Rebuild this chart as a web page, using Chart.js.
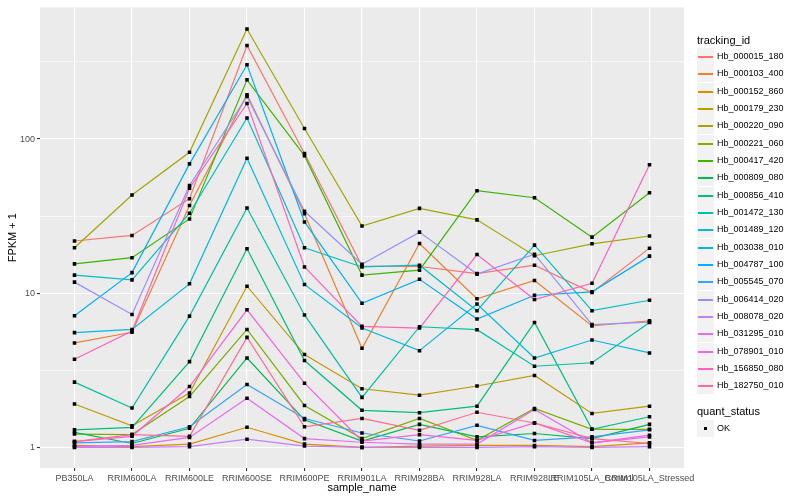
<!DOCTYPE html>
<html>
<head>
<meta charset="utf-8">
<script src="https://cdn.jsdelivr.net/npm/chart.js@4.4.0/dist/chart.umd.min.js"></script>
<style>
  body { margin: 0; background: #fff; font-family: "Liberation Sans", Arial, sans-serif; }
  #wrap { position: relative; width: 800px; height: 500px; }
  #c { position: absolute; left: 0; top: 0; }
  .lgTitle { position: absolute; left: 697px; font-size: 11px; color: #000; line-height: 13px; }
  .lgItem { position: absolute; left: 697px; height: 17px; font-size: 9px; color: #000; line-height: 17px; white-space: nowrap; }
  .lgKey { position: absolute; left: 0; top: 0; width: 17px; height: 17px; background: #f2f2f2; }
  .lgKey span { position: absolute; left: 1px; width: 15px; top: 8px; height: 2px; display: block; }
  .lgKey b { position: absolute; left: 7px; top: 7px; width: 3px; height: 3px; background: #000; }
  .lgText { position: absolute; left: 20px; top: 0; }
</style>
</head>
<body>
<div id="wrap">
  <canvas id="c" width="800" height="500"></canvas>
  <div id="legend"></div>
</div>
<script>
// categories on the x axis
const samples = ["PB350LA", "RRIM600LA", "RRIM600LE", "RRIM600SE", "RRIM600PE", "RRIM901LA",
                 "RRIM928BA", "RRIM928LA", "RRIM928LE", "RRIM105LA_Control", "RRIM105LA_Stressed"];

const trackingIds = ["Hb_000015_180", "Hb_000103_400", "Hb_000152_860", "Hb_000179_230", "Hb_000220_090",
                     "Hb_000221_060", "Hb_000417_420", "Hb_000809_080", "Hb_000856_410", "Hb_001472_130",
                     "Hb_001489_120", "Hb_003038_010", "Hb_004787_100", "Hb_005545_070", "Hb_006414_020",
                     "Hb_008078_020", "Hb_031295_010", "Hb_078901_010", "Hb_156850_080", "Hb_182750_010"];

// ggplot default hue palette for 20 groups
const lineColors = ["#F8766D", "#EA8331", "#D89000", "#C09B00", "#A3A500", "#7CAE00", "#39B600", "#00BB4E",
                    "#00BF7D", "#00C1A3", "#00BFC4", "#00BAE0", "#00B0F6", "#35A2FF", "#9590FF", "#C77CFF",
                    "#E76BF3", "#FA62DB", "#FF62BC", "#FF6C91"];

// FPKM + 1 per sample, one array per tracking id
const hb_000015_180 = [21.8, 23.7, 41, 404, 80.5, 15.0, 14.9, 13.4, 15.2, 10.1, 19.6];
const hb_000103_400 = [4.76, 5.58, 37, 194, 32.8, 4.39, 21, 9.2, 12.1, 6.13, 6.63];
const hb_000152_860 = [1.03, 1.01, 1.05, 1.35, 1.05, 1.0, 1.02, 1.03, 1.03, 1.01, 1.07];
const hb_000179_230 = [1.91, 1.38, 2.25, 11.1, 4.0, 2.4, 2.18, 2.5, 2.93, 1.66, 1.85];
const hb_000220_090 = [19.7, 43.3, 82, 517, 117, 27.3, 35.5, 29.9, 17.5, 20.9, 23.5];
const hb_000221_060 = [1.22, 1.21, 2.14, 5.82, 1.87, 1.14, 1.54, 1.11, 1.79, 1.31, 1.31];
const hb_000417_420 = [15.5, 17.0, 30.3, 242, 78, 13.1, 14.1, 46.2, 41.6, 23.1, 44.8];
const hb_000809_080 = [1.25, 1.06, 1.33, 3.8, 1.51, 1.10, 1.41, 1.17, 1.23, 1.14, 1.41];
const hb_000856_410 = [1.30, 1.35, 3.6, 19.4, 3.66, 1.74, 1.68, 1.85, 6.46, 1.31, 1.58];
const hb_001472_130 = [2.65, 1.80, 7.1, 35.7, 7.23, 2.11, 6.06, 5.8, 3.36, 3.54, 6.46];
const hb_001489_120 = [13.1, 12.2, 33, 137, 19.7, 14.8, 15.2, 7.7, 20.5, 7.7, 9.0];
const hb_003038_010 = [5.55, 5.82, 11.5, 75, 11.4, 5.94, 4.24, 8.5, 3.8, 4.97, 4.1];
const hb_004787_100 = [7.14, 13.6, 69, 303, 29, 8.6, 12.3, 6.8, 9.7, 10.2, 17.4];
const hb_005545_070 = [1.07, 1.09, 1.36, 2.56, 1.54, 1.24, 1.10, 1.39, 1.11, 1.17, 1.30];
const hb_006414_020 = [11.8, 7.28, 50, 189, 34, 15.4, 24.9, 13.3, 17.9, 6.26, 6.5];
const hb_008078_020 = [1.0, 1.0, 1.01, 1.13, 1.02, 1.0, 1.0, 1.0, 1.01, 1.0, 1.01];
const hb_031295_010 = [1.01, 1.03, 1.16, 2.08, 1.14, 1.08, 1.05, 1.05, 1.76, 1.07, 1.17];
const hb_078901_010 = [1.09, 1.18, 2.48, 7.8, 2.61, 1.10, 1.21, 1.11, 1.44, 1.07, 1.2];
const hb_156850_080 = [3.73, 5.69, 48, 170, 14.8, 6.1, 5.94, 17.8, 9.1, 11.6, 68];
const hb_182750_010 = [1.09, 1.21, 1.18, 5.17, 1.36, 1.54, 1.29, 1.69, 1.44, 1.14, 1.06];

const seriesValues = [hb_000015_180, hb_000103_400, hb_000152_860, hb_000179_230, hb_000220_090,
                      hb_000221_060, hb_000417_420, hb_000809_080, hb_000856_410, hb_001472_130,
                      hb_001489_120, hb_003038_010, hb_004787_100, hb_005545_070, hb_006414_020,
                      hb_008078_020, hb_031295_010, hb_078901_010, hb_156850_080, hb_182750_010];

// y axis breaks (log10) and the minor grid in between
const yMajorTicks = [1, 10, 100];
const yMinorTicks = [3.1623, 31.623, 316.23];
const yTickLabels = ["1", "10", "100"];

// ---- datasets: lines first (group 1 at the bottom), black points on top ----
const datasets = seriesValues.map((vals, i) => ({
    type: 'line',
    label: trackingIds[i],
    data: vals.map((v, j) => ({ x: j, y: v })),
    borderColor: lineColors[i],
    borderWidth: 1.2,
    pointRadius: 0,
    fill: false,
    tension: 0,
    order: seriesValues.length - i
}));

let allPoints = [];
seriesValues.forEach(vals => vals.forEach((v, j) => allPoints.push({ x: j, y: v })));
datasets.push({
    type: 'scatter',
    label: 'OK',
    data: allPoints,
    pointStyle: 'rect',
    pointRadius: 2.5,
    pointBorderWidth: 0,
    backgroundColor: '#000',
    borderColor: '#000',
    order: 0
});

const panelBg = {
    id: 'panelBg',
    beforeDraw(chart) {
        const a = chart.chartArea, ctx = chart.ctx;
        ctx.save();
        ctx.fillStyle = '#EBEBEB';
        ctx.fillRect(a.left, a.top, a.right - a.left, a.bottom - a.top);
        ctx.restore();
    }
};

const isMinor = (v) => yMinorTicks.indexOf(v) !== -1;

new Chart(document.getElementById('c'), {
    data: { datasets: datasets },
    plugins: [panelBg],
    options: {
        responsive: false,
        animation: false,
        devicePixelRatio: 1,
        layout: { padding: { left: 0, right: 116, top: 5, bottom: 0 } },
        plugins: { legend: { display: false }, tooltip: { enabled: false } },
        scales: {
            x: {
                type: 'linear',
                min: -0.6, max: 10.6,
                afterBuildTicks: (scale) => { scale.ticks = samples.map((s, i) => ({ value: i })); },
                afterFit: (scale) => { scale.height = 32; },
                ticks: {
                    autoSkip: false, maxRotation: 0, minRotation: 0, padding: 2,
                    color: '#4D4D4D', font: { family: 'Liberation Sans', size: 9 },
                    callback: (v) => samples[v]
                },
                grid: { color: '#FFFFFF', lineWidth: 1.1, tickColor: '#333333', tickLength: 3 },
                border: { display: false },
                title: {
                    display: true, text: 'sample_name', color: '#000',
                    font: { family: 'Liberation Sans', size: 11 }, padding: { top: 0, bottom: 5 }
                }
            },
            y: {
                type: 'logarithmic',
                bounds: 'data',
                min: 0.735, max: 714,
                afterBuildTicks: (scale) => {
                    scale.ticks = yMajorTicks.concat(yMinorTicks).map(v => ({ value: v }));
                },
                afterFit: (scale) => { scale.width = 40; },
                ticks: {
                    autoSkip: false, padding: 2,
                    color: '#4D4D4D', font: { family: 'Liberation Sans', size: 9 },
                    callback: (v) => {
                        const k = yMajorTicks.indexOf(v);
                        return k === -1 ? '' : yTickLabels[k];
                    }
                },
                grid: {
                    color: '#FFFFFF',
                    lineWidth: (ctx) => isMinor(ctx.tick.value) ? 0.55 : 1.1,
                    tickColor: (ctx) => isMinor(ctx.tick.value) ? 'rgba(0,0,0,0)' : '#333333',
                    tickLength: 3
                },
                border: { display: false },
                title: {
                    display: true, text: 'FPKM + 1', color: '#000',
                    font: { family: 'Liberation Sans', size: 11 }, padding: { top: 6, bottom: 0 }
                }
            }
        }
    }
});

// ---- legend (ggplot style, right side) ----
const legend = document.getElementById('legend');
let html = '<div class="lgTitle" style="top:34px">tracking_id</div>';
trackingIds.forEach((id, i) => {
    const top = Math.round(48 + i * 17.33);
    html += '<div class="lgItem" style="top:' + top + 'px">' +
            '<div class="lgKey"><span style="background-color:' + lineColors[i] + '"></span></div>' +
            '<div class="lgText">' + id + '</div></div>';
});
html += '<div class="lgTitle" style="top:405px">quant_status</div>';
html += '<div class="lgItem" style="top:420px"><div class="lgKey"><b></b></div><div class="lgText">OK</div></div>';
legend.innerHTML = html;
</script>
</body>
</html>
